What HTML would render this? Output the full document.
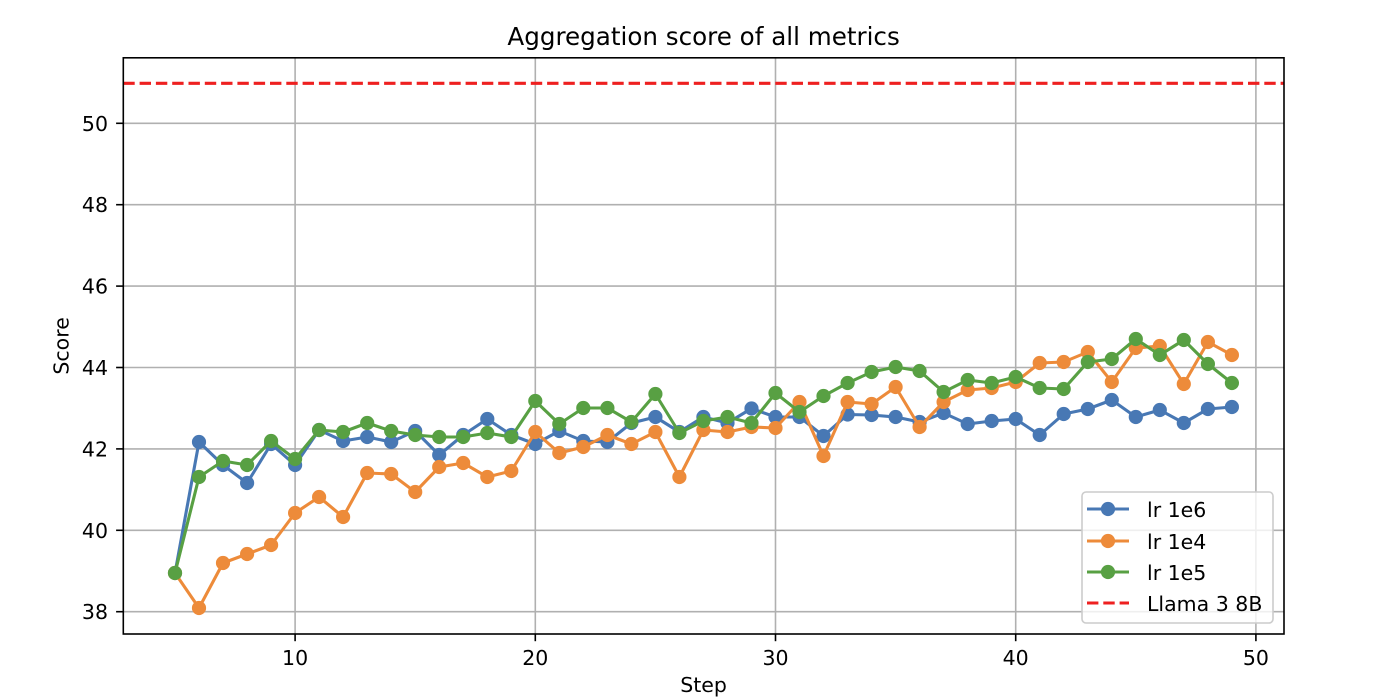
<!DOCTYPE html>
<html>
<head>
<meta charset="utf-8">
<style>
  html, body { margin: 0; padding: 0; background: #ffffff; }
  svg { display: block; }
  text { font-family: "DejaVu Sans", "Liberation Sans", sans-serif; fill: #000; }
</style>
</head>
<body>
<svg width="1384" height="700" viewBox="0 0 1384 700" xmlns="http://www.w3.org/2000/svg">
  <defs>
    <marker id="mb" markerUnits="userSpaceOnUse" markerWidth="18" markerHeight="18" refX="9" refY="9" overflow="visible">
      <circle cx="9" cy="9" r="7.1" fill="#4878b4"/>
    </marker>
    <marker id="mo" markerUnits="userSpaceOnUse" markerWidth="18" markerHeight="18" refX="9" refY="9" overflow="visible">
      <circle cx="9" cy="9" r="7.1" fill="#ed8b3a"/>
    </marker>
    <marker id="mg" markerUnits="userSpaceOnUse" markerWidth="18" markerHeight="18" refX="9" refY="9" overflow="visible">
      <circle cx="9" cy="9" r="7.1" fill="#58a043"/>
    </marker>
    <clipPath id="ax"><rect x="123.3" y="57.8" width="1160.7" height="576.2"/></clipPath>
  </defs>

  <rect x="0" y="0" width="1384" height="700" fill="#ffffff"/>

  <!-- grid -->
  <g stroke="#b0b0b0" stroke-width="1.6" fill="none">
    <line x1="295.1" y1="57.8" x2="295.1" y2="634"/>
    <line x1="535.3" y1="57.8" x2="535.3" y2="634"/>
    <line x1="775.5" y1="57.8" x2="775.5" y2="634"/>
    <line x1="1015.7" y1="57.8" x2="1015.7" y2="634"/>
    <line x1="1255.9" y1="57.8" x2="1255.9" y2="634"/>
    <line x1="123.3" y1="611.7" x2="1284" y2="611.7"/>
    <line x1="123.3" y1="530.3" x2="1284" y2="530.3"/>
    <line x1="123.3" y1="448.9" x2="1284" y2="448.9"/>
    <line x1="123.3" y1="367.5" x2="1284" y2="367.5"/>
    <line x1="123.3" y1="286.1" x2="1284" y2="286.1"/>
    <line x1="123.3" y1="204.7" x2="1284" y2="204.7"/>
    <line x1="123.3" y1="123.3" x2="1284" y2="123.3"/>
  </g>

  <g clip-path="url(#ax)" fill="none" stroke-width="3.1" stroke-linejoin="round" stroke-linecap="butt">
    <!-- lr 1e6 -->
    <polyline stroke="#4878b4" marker-start="url(#mb)" marker-mid="url(#mb)" marker-end="url(#mb)"
      points="175,573 199,442 223,465 247.1,483 271.1,444 295.1,465 319.1,430 343.1,441 367.2,437 391.2,442 415.2,431 439.2,455 463.2,435 487.3,419 511.3,435 535.3,444 559.3,431 583.3,441 607.4,442 631.4,423 655.4,417 679.4,432 703.4,417 727.5,423 751.5,408.5 775.5,417 799.5,417 823.5,436 847.6,414.5 871.6,415 895.6,417 919.6,422 943.6,413 967.7,424 991.7,421 1015.7,419 1039.7,435 1063.7,414 1087.8,409 1111.8,400 1135.8,417 1159.8,410 1183.8,423 1207.9,409 1231.9,407"/>
    <!-- lr 1e4 -->
    <polyline stroke="#ed8b3a" marker-start="url(#mo)" marker-mid="url(#mo)" marker-end="url(#mo)"
      points="175,573 199,608 223,563 247.1,554 271.1,545 295.1,513 319.1,497 343.1,517 367.2,473 391.2,474 415.2,492 439.2,467 463.2,463 487.3,477 511.3,471 535.3,432 559.3,453 583.3,447 607.4,435 631.4,444 655.4,432 679.4,477 703.4,430 727.5,432 751.5,427 775.5,428 799.5,402 823.5,456 847.6,402 871.6,404 895.6,387 919.6,427 943.6,402 967.7,390 991.7,388 1015.7,382 1039.7,363 1063.7,362 1087.8,352 1111.8,382 1135.8,348 1159.8,346 1183.8,384 1207.9,342 1231.9,355"/>
    <!-- lr 1e5 -->
    <polyline stroke="#58a043" marker-start="url(#mg)" marker-mid="url(#mg)" marker-end="url(#mg)"
      points="175,573 199,477 223,461 247.1,465 271.1,441 295.1,459 319.1,430 343.1,432 367.2,423 391.2,431 415.2,435 439.2,437 463.2,437 487.3,433 511.3,437 535.3,401 559.3,424 583.3,408 607.4,408 631.4,422 655.4,394 679.4,433 703.4,421 727.5,417 751.5,423 775.5,393 799.5,412 823.5,396 847.6,383 871.6,372 895.6,367 919.6,371 943.6,392 967.7,380 991.7,383 1015.7,377 1039.7,388 1063.7,389 1087.8,362 1111.8,359 1135.8,339 1159.8,355 1183.8,340 1207.9,364 1231.9,383"/>
    <!-- Llama 3 8B -->
    <line x1="123.3" y1="83.3" x2="1284" y2="83.3" stroke="#ee2020" stroke-width="3.1" stroke-dasharray="11.4,4.9"/>
  </g>

  <!-- spines -->
  <rect x="123.3" y="57.8" width="1160.7" height="576.2" fill="none" stroke="#000" stroke-width="1.6"/>

  <!-- ticks -->
  <g stroke="#000" stroke-width="1.6">
    <line x1="295.1" y1="634" x2="295.1" y2="641.2"/>
    <line x1="535.3" y1="634" x2="535.3" y2="641.2"/>
    <line x1="775.5" y1="634" x2="775.5" y2="641.2"/>
    <line x1="1015.7" y1="634" x2="1015.7" y2="641.2"/>
    <line x1="1255.9" y1="634" x2="1255.9" y2="641.2"/>
    <line x1="116.1" y1="611.7" x2="123.3" y2="611.7"/>
    <line x1="116.1" y1="530.3" x2="123.3" y2="530.3"/>
    <line x1="116.1" y1="448.9" x2="123.3" y2="448.9"/>
    <line x1="116.1" y1="367.5" x2="123.3" y2="367.5"/>
    <line x1="116.1" y1="286.1" x2="123.3" y2="286.1"/>
    <line x1="116.1" y1="204.7" x2="123.3" y2="204.7"/>
    <line x1="116.1" y1="123.3" x2="123.3" y2="123.3"/>
  </g>

  <!-- tick labels -->
  <g font-size="20.5" text-anchor="middle">
    <text x="295.1" y="665">10</text>
    <text x="535.3" y="665">20</text>
    <text x="775.5" y="665">30</text>
    <text x="1015.7" y="665">40</text>
    <text x="1255.9" y="665">50</text>
  </g>
  <g font-size="20.5" text-anchor="end">
    <text x="108" y="619.2">38</text>
    <text x="108" y="537.8">40</text>
    <text x="108" y="456.4">42</text>
    <text x="108" y="375">44</text>
    <text x="108" y="293.6">46</text>
    <text x="108" y="212.2">48</text>
    <text x="108" y="130.8">50</text>
  </g>

  <!-- axis labels & title -->
  <text x="703.6" y="692" font-size="20.5" text-anchor="middle">Step</text>
  <text transform="translate(68.3,345.9) rotate(-90)" x="0" y="0" font-size="20.5" text-anchor="middle">Score</text>
  <text x="703.6" y="45" font-size="24.6" text-anchor="middle">Aggregation score of all metrics</text>

  <!-- legend -->
  <rect x="1082" y="492" width="191" height="131" rx="4" ry="4" fill="#ffffff" fill-opacity="0.8" stroke="#cccccc" stroke-width="1.6"/>
  <g stroke-width="3.1" fill="none">
    <line x1="1087" y1="509" x2="1129" y2="509" stroke="#4878b4"/>
    <line x1="1087" y1="541" x2="1129" y2="541" stroke="#ed8b3a"/>
    <line x1="1087" y1="572" x2="1129" y2="572" stroke="#58a043"/>
    <line x1="1087" y1="603" x2="1129" y2="603" stroke="#ee2020" stroke-dasharray="11.4,4.9"/>
  </g>
  <circle cx="1108" cy="509" r="7.1" fill="#4878b4"/>
  <circle cx="1108" cy="541" r="7.1" fill="#ed8b3a"/>
  <circle cx="1108" cy="572" r="7.1" fill="#58a043"/>
  <g font-size="20.5">
    <text x="1147" y="517">lr 1e6</text>
    <text x="1147" y="549">lr 1e4</text>
    <text x="1147" y="580">lr 1e5</text>
    <text x="1147" y="611">Llama 3 8B</text>
  </g>
</svg>
</body>
</html>
